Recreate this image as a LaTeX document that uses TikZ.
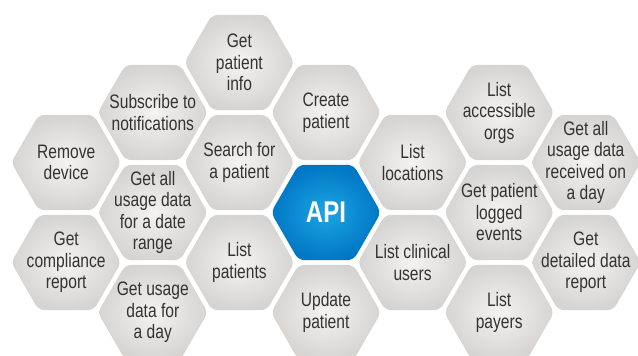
\documentclass[tikz,border=0pt]{standalone}
\usepackage{fontspec}
\setmainfont{Liberation Sans}[FakeStretch=0.8]
\usepackage{tikz}
\usetikzlibrary{positioning}

\definecolor{cellin}{HTML}{F4F3F2}
\definecolor{cellout}{HTML}{D6D4D2}
\definecolor{celltext}{HTML}{333333}
\definecolor{apiin}{HTML}{1CA5E3}
\definecolor{apiout}{HTML}{0077C4}

\tikzset{
  honey/.style 2 args={minimum width=110pt, minimum height=95.3pt, inner sep=0pt, align=center,
    path picture={\shade[inner color=#1, outer color=#2, rounded corners=6pt]
      ([xshift=55pt]path picture bounding box.center) -- ++(120:55pt) -- ++(180:55pt)
      -- ++(240:55pt) -- ++(300:55pt) -- ++(0:55pt) -- cycle;}},
  cell/.style={honey={cellin}{cellout}, text=celltext, font=\fontsize{19.5pt}{21.5pt}\selectfont},
  hub/.style={honey={apiin}{apiout}, text=white, font=\fontsize{30pt}{32pt}\selectfont\bfseries}
}

\begin{document}
\begin{tikzpicture}[x=1pt,y=1pt,node distance=50pt and 86.6pt,on grid]
   \useasboundingbox (-326,-143.5) rectangle (312,212.5);
   \node[hub] (api) {API};
   \node[cell] (create) [above=100pt of api] {Create\\patient};
   \node[cell] (update) [below=100pt of api] {Update\\patient};
   \node[cell] (search) [above left=of api] {Search for\\a patient};
   \node[cell] (patients) [below left=of api] {List\\patients};
   \node[cell] (locations) [above right=of api] {List\\locations};
   \node[cell] (clinical) [below right=of api] {List clinical\\users};
   \node[cell] (info) [above left=of create] {Get\\patient\\info};
   \node[cell] (subscribe) [above left=of search] {Subscribe to\\notifications};
   \node[cell] (range) [below left=of search] {Get all\\usage data\\for a date\\range};
   \node[cell] (dayusage) [below left=of patients] {Get usage\\data for\\a day};
   \node[cell] (remove) [above left=of range] {Remove\\device};
   \node[cell] (compliance) [below left=of range] {Get\\compliance\\report};
   \node[cell] (orgs) [above right=of locations] {List\\accessible\\orgs};
   \node[cell] (events) [below right=of locations] {Get patient\\logged\\events};
   \node[cell] (payers) [below right=of clinical] {List\\payers};
   \node[cell] (received) [above right=of events] {Get all\\usage data\\received on\\a day};
   \node[cell] (detailed) [below right=of events] {Get\\detailed data\\report};
\end{tikzpicture}
\end{document}
